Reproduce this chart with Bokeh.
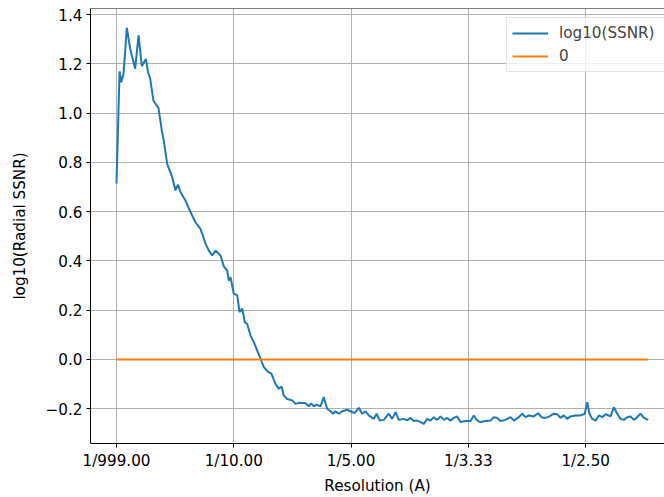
from bokeh.plotting import figure
from bokeh.models import FixedTicker, Span, Range1d
from bokeh.embed import file_html
from bokeh.resources import INLINE

# Spatial frequency (1/A) and log10 radial SSNR
freq = [0.0000, 0.0026, 0.0040, 0.0060, 0.0088, 0.0117, 0.0159, 0.0188, 0.0216, 0.0250,
        0.0267, 0.0287, 0.0315, 0.0358, 0.0386, 0.0403, 0.0432, 0.0475, 0.0503, 0.0523,
        0.0546, 0.0588, 0.0631, 0.0673, 0.0716, 0.0759, 0.0787, 0.0816, 0.0844, 0.0887,
        0.0915, 0.0944, 0.0957, 0.0972, 0.1000, 0.1029, 0.1049, 0.1072, 0.1094, 0.1114,
        0.1142, 0.1171, 0.1199, 0.1228, 0.1256, 0.1285, 0.1321, 0.1355, 0.1384, 0.1407,
        0.1426, 0.1455, 0.1498, 0.1526, 0.1554, 0.1611, 0.1639, 0.1660, 0.1682, 0.1705,
        0.1739, 0.1767, 0.1796, 0.1824, 0.1847, 0.1867, 0.1895, 0.1924, 0.1967, 0.1995,
        0.2029, 0.2066, 0.2095, 0.2123, 0.2151, 0.2194, 0.2217, 0.2245, 0.2279, 0.2321,
        0.2350, 0.2379, 0.2407, 0.2449, 0.2478, 0.2506, 0.2535, 0.2563, 0.2592, 0.2620,
        0.2649, 0.2677, 0.2705, 0.2734, 0.2762, 0.2791, 0.2819, 0.2847, 0.2876, 0.2904,
        0.2933, 0.2975, 0.3018, 0.3046, 0.3075, 0.3103, 0.3146, 0.3188, 0.3217, 0.3245,
        0.3274, 0.3316, 0.3359, 0.3387, 0.3430, 0.3459, 0.3487, 0.3515, 0.3558, 0.3595,
        0.3623, 0.3657, 0.3691, 0.3728, 0.3757, 0.3785, 0.3814, 0.3842, 0.3870, 0.3913,
        0.3956, 0.3992, 0.4013, 0.4032, 0.4056, 0.4084, 0.4112, 0.4141, 0.4169, 0.4212,
        0.4240, 0.4269, 0.4297, 0.4326, 0.4354, 0.4382, 0.4411, 0.4439, 0.4467, 0.4496,
        0.4533]

log_ssnr = [0.714, 1.169, 1.125, 1.160, 1.346, 1.260, 1.180, 1.315, 1.190, 1.220,
            1.170, 1.140, 1.050, 1.020, 0.930, 0.889, 0.794, 0.740, 0.686, 0.710,
            0.679, 0.645, 0.598, 0.557, 0.530, 0.470, 0.442, 0.422, 0.442, 0.422,
            0.378, 0.361, 0.320, 0.334, 0.267, 0.260, 0.192, 0.206, 0.151, 0.145,
            0.097, 0.070, 0.037, 0.003, -0.031, -0.047, -0.058, -0.099, -0.119, -0.110,
            -0.146, -0.160, -0.166, -0.180, -0.176, -0.178, -0.190, -0.178, -0.190, -0.183,
            -0.190, -0.153, -0.200, -0.210, -0.220, -0.210, -0.220, -0.210, -0.204, -0.210,
            -0.218, -0.196, -0.220, -0.210, -0.227, -0.241, -0.220, -0.248, -0.245, -0.220,
            -0.241, -0.214, -0.245, -0.241, -0.247, -0.237, -0.250, -0.248, -0.254, -0.261,
            -0.241, -0.248, -0.234, -0.245, -0.231, -0.245, -0.237, -0.248, -0.237, -0.231,
            -0.254, -0.250, -0.250, -0.227, -0.248, -0.254, -0.250, -0.248, -0.234, -0.237,
            -0.250, -0.245, -0.234, -0.248, -0.234, -0.220, -0.234, -0.227, -0.231, -0.218,
            -0.234, -0.237, -0.231, -0.220, -0.222, -0.237, -0.227, -0.241, -0.231, -0.227,
            -0.227, -0.220, -0.173, -0.220, -0.241, -0.248, -0.227, -0.234, -0.222, -0.231,
            -0.194, -0.220, -0.241, -0.245, -0.234, -0.231, -0.245, -0.234, -0.220, -0.237,
            -0.245]

zero_x = [0.0, 0.4533]
zero_y = [0.0, 0.0]

x_ticks = [0.0, 0.1, 0.2, 0.3, 0.4]
x_tick_labels = ["1/999.00", "1/10.00", "1/5.00", "1/3.33", "1/2.50"]
y_ticks = [-0.2, 0.0, 0.2, 0.4, 0.6, 0.8, 1.0, 1.2, 1.4]
y_tick_labels = ["\u22120.2", "0.0", "0.2", "0.4", "0.6", "0.8", "1.0", "1.2", "1.4"]

FONT = "DejaVu Sans"
FS = "15.2px"
Y_TOP = 1.4244

p = figure(width=664, height=497, output_backend="svg", toolbar_location=None,
           x_range=Range1d(-0.02217, 0.46718), y_range=Range1d(-0.3409, Y_TOP),
           min_border_left=90, min_border_right=0, min_border_top=8, min_border_bottom=54)

p.line(freq, log_ssnr, line_color="#1f77b4", line_width=2, legend_label="log10(SSNR)")
p.line(zero_x, zero_y, line_color="#ff7f0e", line_width=2, legend_label="0")

p.outline_line_color = None
p.add_layout(Span(location=Y_TOP, dimension="width", line_color="black", line_width=1))

p.xaxis.ticker = FixedTicker(ticks=x_ticks)
p.xaxis.major_label_overrides = {t: l for t, l in zip(x_ticks, x_tick_labels)}
p.yaxis.ticker = FixedTicker(ticks=y_ticks)
p.yaxis.major_label_overrides = {t: l for t, l in zip(y_ticks, y_tick_labels)}

for ax in (p.xaxis, p.yaxis):
    ax.axis_line_color = "black"
    ax.axis_line_width = 1
    ax.major_tick_line_color = "black"
    ax.major_tick_out = 4
    ax.major_tick_in = 0
    ax.minor_tick_line_color = None
    ax.major_label_text_font = FONT
    ax.major_label_text_font_size = FS
    ax.major_label_text_color = "black"
    ax.major_label_standoff = 4
    ax.axis_label_text_font = FONT
    ax.axis_label_text_font_size = FS
    ax.axis_label_text_font_style = "normal"
    ax.axis_label_text_color = "black"

p.xaxis.axis_label = "Resolution (A)"
p.yaxis.axis_label = "log10(Radial SSNR)"
p.xaxis.axis_label_standoff = 4
p.yaxis.axis_label_standoff = 14

p.xgrid.ticker = FixedTicker(ticks=x_ticks)
p.ygrid.ticker = FixedTicker(ticks=y_ticks)
p.grid.grid_line_color = "#b0b0b0"
p.grid.grid_line_width = 1

lg = p.legend[0]
lg.location = (416, 371)
lg.margin = 0
lg.padding = 5
lg.spacing = 3
lg.glyph_width = 36
lg.glyph_height = 20
lg.label_height = 20
lg.label_standoff = 11
lg.label_width = 135
lg.label_text_font = FONT
lg.label_text_font_size = FS
lg.border_line_color = "#cccccc"
lg.border_line_width = 1
lg.background_fill_alpha = 0.8

open("out.html", "w").write(file_html(p, INLINE))
